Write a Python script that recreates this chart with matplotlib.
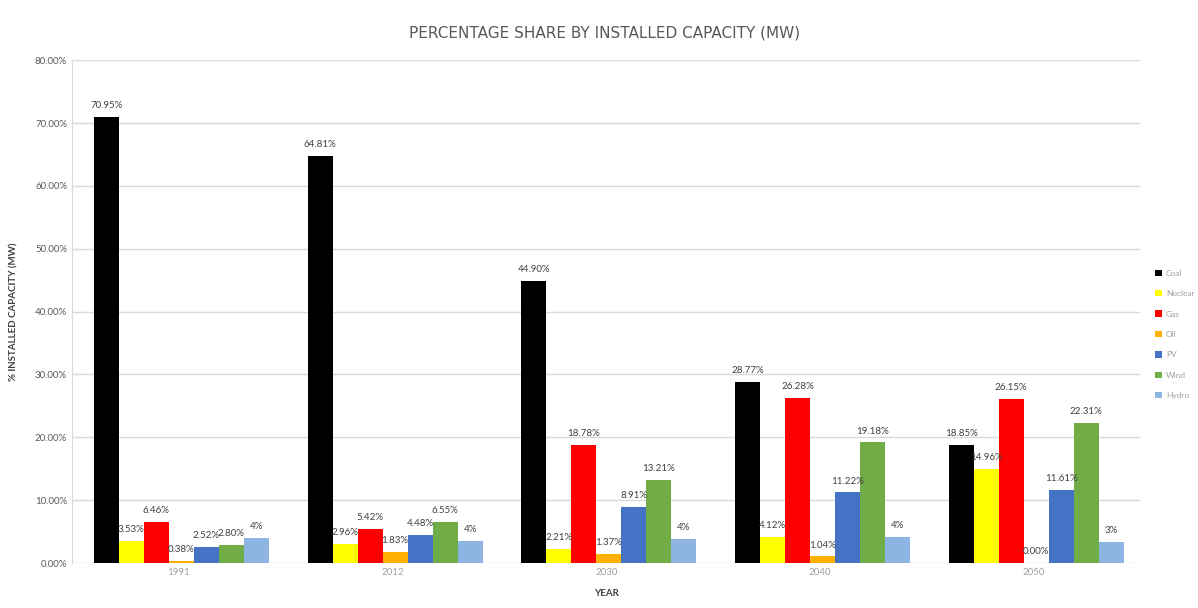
import matplotlib
matplotlib.use("Agg")
import matplotlib.pyplot as plt
import numpy as np

years = ["1991", "2012", "2030", "2040", "2050"]
sources = ["Coal", "Nuclear", "Gas", "Oil", "PV", "Wind", "Hydro"]
coal = [70.95, 64.81, 44.90, 28.77, 18.85]
nuclear = [3.53, 2.96, 2.21, 4.12, 14.96]
gas = [6.46, 5.42, 18.78, 26.28, 26.15]
oil = [0.38, 1.83, 1.37, 1.04, 0.00]
pv = [2.52, 4.48, 8.91, 11.22, 11.61]
wind = [2.80, 6.55, 13.21, 19.18, 22.31]
hydro = [4.0, 3.5, 3.8, 4.1, 3.4]
series = [coal, nuclear, gas, oil, pv, wind, hydro]
colors = ["#000000", "#FFFF00", "#FF0000", "#FFB000", "#4472C4", "#70AD47", "#8EB4E3"]
yticks = [0, 10, 20, 30, 40, 50, 60, 70, 80]

plt.rcParams['font.family'] = ['Lato', 'DejaVu Sans']
fig = plt.figure(figsize=(11.98, 6.08), dpi=100)
ax = fig.add_axes([0.060, 0.074, 0.892, 0.827])

x = np.arange(len(years))
n = len(series)
w = 0.117
for i, (vals, c, name) in enumerate(zip(series, colors, sources)):
    pos = x + (i - (n - 1) / 2) * w + 0.012
    bars = ax.bar(pos, vals, width=w, color=c, label=name, zorder=3)
    fmt = "{:.0f}%" if name == "Hydro" else "{:.2f}%"
    ax.bar_label(bars, labels=[fmt.format(v) for v in vals], padding=5,
                 fontsize=7, color="#404040", zorder=4)

ax.set_xlim(-0.5, len(years) - 0.5)
ax.set_ylim(0, 80)
ax.set_yticks(yticks)
ax.set_yticklabels([f"{t:.2f}%" for t in yticks], fontsize=7, color="#595959")
ax.set_xticks(x)
ax.set_xticklabels(years, fontsize=7, color="#A0A0A0")
ax.tick_params(length=0)
ax.yaxis.grid(True, color="#D9D9D9", linewidth=1, zorder=0)
for s in ["top", "right", "bottom"]:
    ax.spines[s].set_visible(False)
ax.spines["left"].set_color("#D9D9D9")

ax.set_ylabel("% INSTALLED CAPACITY (MW)", fontsize=7, fontweight="bold", color="#404040", labelpad=12)
ax.set_xlabel("YEAR", fontsize=7, fontweight="bold", color="#404040", labelpad=9)
fig.text(0.505, 0.945, "PERCENTAGE SHARE BY INSTALLED CAPACITY (MW)", ha="center", va="center",
         fontsize=11, color="#595959", fontfamily="DejaVu Sans")

leg = fig.legend(loc="center left", bbox_to_anchor=(0.958, 0.45), frameon=False, fontsize=6,
                 handlelength=0.8, handleheight=0.8, labelspacing=1.6, handletextpad=0.5)
for t in leg.get_texts():
    t.set_color("#A0A0A0")

fig.savefig("out.png", dpi=100)
